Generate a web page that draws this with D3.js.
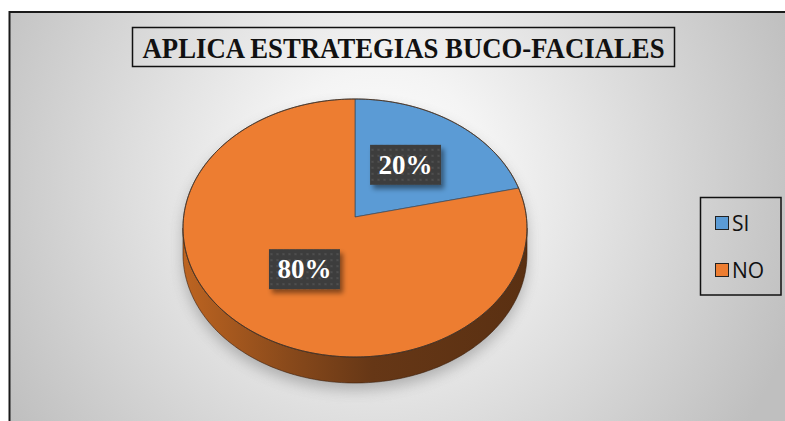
<!DOCTYPE html>
<html>
<head>
<meta charset="utf-8">
<script src="https://cdn.jsdelivr.net/npm/d3@7"></script>
<style>
  html, body { margin: 0; padding: 0; background: #fff; }
  svg { display: block; }
  .serif { font-family: "Liberation Serif", "Times New Roman", Tinos, Times, serif; font-weight: bold; }
  .sans { font-family: "Open Sans", "Noto Sans", sans-serif; }
</style>
</head>
<body>
<svg id="chart" width="785" height="421"></svg>
<script>
// data
const categories = ["SI", "NO"];
const values = [20, 80];
const labels = ["20%", "80%"];
const colors = ["#5b9bd5", "#ed7d31"];
const title = "APLICA ESTRATEGIAS BUCO-FACIALES";

// geometry of the 3d pie
const cx = 355, cy = 228;     // centre of the top ellipse
const vy = 217;               // where the slices meet (perspective)
const rx = 172, ry = 129;     // radii of the top face
const depth = 26;

const svg = d3.select("#chart");
const defs = svg.append("defs");

// background gradient
const bg = defs.append("radialGradient")
  .attr("id", "bg")
  .attr("gradientUnits", "userSpaceOnUse")
  .attr("cx", 380).attr("cy", 180).attr("r", 440);
bg.append("stop").attr("offset", 0).attr("stop-color", "#ffffff");
bg.append("stop").attr("offset", 0.25).attr("stop-color", "#f4f4f4");
bg.append("stop").attr("offset", 1).attr("stop-color", "#bfbfbf");

// side wall gradient
const side = defs.append("linearGradient")
  .attr("id", "side")
  .attr("gradientUnits", "userSpaceOnUse")
  .attr("x1", cx - rx).attr("x2", cx + rx).attr("y1", 0).attr("y2", 0);
side.append("stop").attr("offset", 0).attr("stop-color", "#bd6421");
side.append("stop").attr("offset", 0.3).attr("stop-color", "#8a4a1b");
side.append("stop").attr("offset", 0.55).attr("stop-color", "#663716");
side.append("stop").attr("offset", 1).attr("stop-color", "#5a3012");

// blur filters
defs.append("filter").attr("id", "pieShadow")
  .attr("x", "-20%").attr("y", "-20%").attr("width", "140%").attr("height", "140%")
  .append("feGaussianBlur").attr("stdDeviation", 7);

const ls = defs.append("filter").attr("id", "lblShadow")
  .attr("x", "-30%").attr("y", "-30%").attr("width", "160%").attr("height", "160%");
ls.append("feDropShadow")
  .attr("dx", 3).attr("dy", 4).attr("stdDeviation", 2.5)
  .attr("flood-color", "#000").attr("flood-opacity", 0.45);

// dotted label fill
const pat = defs.append("pattern")
  .attr("id", "dots")
  .attr("patternUnits", "userSpaceOnUse")
  .attr("width", 6).attr("height", 6);
pat.append("rect").attr("width", 6).attr("height", 6).attr("fill", "#3e3e3e");
pat.append("circle").attr("cx", 3).attr("cy", 3).attr("r", 1).attr("fill", "#555");

// chart area
svg.append("rect")
  .attr("x", 9.5).attr("y", 12)
  .attr("width", 790).attr("height", 420)
  .attr("fill", "url(#bg)")
  .attr("stroke", "#1a1a1a")
  .attr("stroke-width", 2);

// title
svg.append("rect")
  .attr("x", 132.5).attr("y", 27.5)
  .attr("width", 542).attr("height", 39)
  .attr("fill", "none")
  .attr("stroke", "#111")
  .attr("stroke-width", 1.5);

svg.append("text")
  .attr("class", "serif")
  .attr("x", 403.5).attr("y", 57.5)
  .attr("text-anchor", "middle")
  .attr("font-size", 29)
  .attr("textLength", 522)
  .attr("lengthAdjust", "spacingAndGlyphs")
  .attr("fill", "#111")
  .text(title);

// pie
const pie = d3.pie().sort(null).value(d => d);
const arcs = pie(values);

const proj = (a, r = 1) => [cx + rx * r * Math.sin(a), cy - ry * r * Math.cos(a)];
const line = d3.line();

function arcPoints(a0, a1) {
  const n = Math.max(2, Math.ceil((a1 - a0) / 0.02));
  return d3.range(n + 1).map(i => proj(a0 + (a1 - a0) * i / n));
}

const outline = arcPoints(0, 2 * Math.PI);
const front = arcPoints(Math.PI / 2, 3 * Math.PI / 2);
const frontDown = front.map(p => [p[0], p[1] + depth]).reverse();

const shadow = svg.append("g")
  .attr("filter", "url(#pieShadow)")
  .attr("opacity", 0.45)
  .attr("transform", "translate(0,7)");
shadow.append("path").attr("d", line(outline) + "Z").attr("fill", "#6e6e6e");
shadow.append("path").attr("d", line(front.concat(frontDown)) + "Z").attr("fill", "#6e6e6e");

// side wall
svg.append("path")
  .attr("d", line(front.concat(frontDown)) + "Z")
  .attr("fill", "url(#side)")
  .attr("stroke", "#3a1f0c")
  .attr("stroke-width", 0.6);

// top face slices
svg.selectAll("path.slice")
  .data(arcs)
  .join("path")
  .attr("class", "slice")
  .attr("d", d => line([[cx, vy]].concat(arcPoints(d.startAngle, d.endAngle))) + "Z")
  .attr("fill", (d, i) => colors[i])
  .attr("stroke", "#3c4a5a")
  .attr("stroke-width", 0.7)
  .attr("stroke-linejoin", "round");

// edge line
svg.append("path")
  .attr("d", line(outline) + "Z")
  .attr("fill", "none")
  .attr("stroke", "#4a2c14")
  .attr("stroke-width", 0.8);

// data labels
const labelArc = d3.arc().innerRadius(0).outerRadius(1);
const lblW = 71, lblH = 40;

const lbl = svg.selectAll("g.lbl")
  .data(arcs)
  .join("g")
  .attr("class", "lbl")
  .attr("transform", d => {
    const c = labelArc.centroid(d);
    return `translate(${cx + rx * c[0]},${vy + ry * c[1]})`;
  });

lbl.append("rect")
  .attr("x", -lblW / 2).attr("y", -lblH / 2)
  .attr("width", lblW).attr("height", lblH)
  .attr("fill", "url(#dots)")
  .attr("filter", "url(#lblShadow)");

lbl.append("text")
  .attr("class", "serif")
  .attr("y", 9)
  .attr("text-anchor", "middle")
  .attr("font-size", 27)
  .attr("fill", "#fff")
  .text((d, i) => labels[i]);

// legend
svg.append("rect")
  .attr("x", 700.5).attr("y", 197.5)
  .attr("width", 80.5).attr("height", 97.5)
  .attr("fill", "none")
  .attr("stroke", "#111")
  .attr("stroke-width", 1.5);

const leg = svg.selectAll("g.leg")
  .data(categories)
  .join("g")
  .attr("class", "leg")
  .attr("transform", (d, i) => `translate(715,${216 + i * 47})`);

leg.append("rect")
  .attr("x", 0.5).attr("y", 0.5)
  .attr("width", 13).attr("height", 13)
  .attr("fill", (d, i) => colors[i])
  .attr("stroke", "#222")
  .attr("stroke-width", 1);

leg.append("text")
  .attr("class", "sans")
  .attr("x", 17).attr("y", 15)
  .attr("font-size", 21)
  .attr("fill", "#111")
  .text(d => d);
</script>
</body>
</html>
